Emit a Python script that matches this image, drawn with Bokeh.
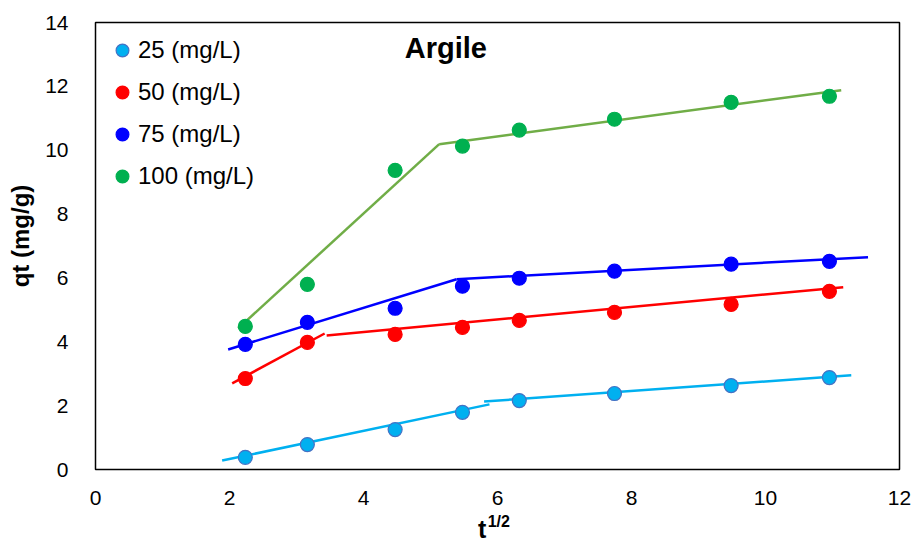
from bokeh.plotting import figure
from bokeh.models import Label, Legend, LegendItem, FixedTicker, Range1d, LinearAxis
from bokeh.embed import file_html
from bokeh.resources import INLINE

# data
sqrt_t = [2.236, 3.162, 4.472, 5.477, 6.325, 7.746, 9.487, 10.954]
q25 = [0.38, 0.78, 1.25, 1.79, 2.16, 2.38, 2.63, 2.88]
q50 = [2.85, 3.98, 4.23, 4.45, 4.67, 4.92, 5.17, 5.58]
q75 = [3.92, 4.61, 5.05, 5.74, 5.99, 6.21, 6.43, 6.52]
q100 = [4.48, 5.80, 9.37, 10.13, 10.63, 10.97, 11.50, 11.69]

# fitted linear segments (x0, x1) and (y0, y1)
fit25 = [([1.89, 5.88], [0.28, 2.04]), ([5.80, 11.28], [2.13, 2.95])]
fit50 = [([2.04, 3.42], [2.70, 4.26]), ([3.45, 11.16], [4.20, 5.71])]
fit75 = [([1.98, 5.39], [3.76, 5.96]), ([5.39, 11.53], [5.96, 6.65])]
fit100 = [([2.13, 5.13], [4.42, 10.19]), ([5.13, 11.13], [10.19, 11.88])]

labels = ["25 (mg/L)", "50 (mg/L)", "75 (mg/L)", "100 (mg/L)"]
x_ticks = [0, 2, 4, 6, 8, 10, 12]
y_ticks = [0, 2, 4, 6, 8, 10, 12, 14]
title_text = "Argile"
y_title = "qt (mg/g)"
x_title_base = "t"
x_title_sup = "1/2"

FONT = "Liberation Sans"

p = figure(width=914, height=548, output_backend="svg", toolbar_location=None,
           x_range=Range1d(0, 12), y_range=Range1d(0, 14),
           min_border_left=95, min_border_right=15, min_border_top=22, min_border_bottom=79)
p.background_fill_color = "white"
p.border_fill_color = "white"
p.outline_line_color = "black"
p.outline_line_width = 1.5
p.grid.visible = False

for ax in (p.xaxis[0], p.yaxis[0]):
    ax.axis_line_color = None
    ax.major_tick_line_color = None
    ax.minor_tick_line_color = None
    ax.major_label_text_font = FONT
    ax.major_label_text_font_size = "21px"
    ax.major_label_text_color = "black"

p.xaxis.ticker = FixedTicker(ticks=x_ticks)
p.yaxis.ticker = FixedTicker(ticks=y_ticks)
p.xaxis.major_label_standoff = 15
p.yaxis.major_label_standoff = 21

# leading no-break spaces nudge the centred rotated title slightly upward
p.yaxis.axis_label = "\u00a0\u00a0\u00a0" + y_title
p.yaxis.axis_label_text_font = FONT
p.yaxis.axis_label_text_font_size = "24px"
p.yaxis.axis_label_text_font_style = "bold"
p.yaxis.axis_label_standoff = 8
p.yaxis.axis_label_text_color = "black"


def text_axis(pos, txt, size, standoff):
    ax = LinearAxis(ticker=FixedTicker(ticks=[pos]),
                    major_label_overrides={pos: txt},
                    axis_line_color=None, major_tick_line_color=None,
                    minor_tick_line_color=None,
                    major_label_text_font=FONT, major_label_text_font_size=size,
                    major_label_text_font_style="bold", major_label_text_color="black",
                    major_label_standoff=standoff)
    p.add_layout(ax, "below")


text_axis(6.02, x_title_sup, "16px", -1)
text_axis(5.77, x_title_base, "25px", -24)

series = [
    (q25, fit25, "#00B0F0", "#4472C4", "#00B0F0"),
    (q50, fit50, "#FF0000", "#FF0000", "#FF0000"),
    (q75, fit75, "#0000FF", "#0000FF", "#0000FF"),
    (q100, fit100, "#00B050", "#00B050", "#70AD47"),
]

items = []
for (ys, fits, fc, lc, linec), lab in zip(series, labels):
    for xs_seg, ys_seg in fits:
        p.line(xs_seg, ys_seg, line_color=linec, line_width=2.5)
    r = p.scatter(sqrt_t, ys, size=14, fill_color=fc, line_color=lc, line_width=1.2)
    items.append(LegendItem(label=lab, renderers=[r]))

legend = Legend(items=items, location="top_left", border_line_color=None,
                background_fill_alpha=0, label_text_font=FONT,
                label_text_font_size="24px", label_text_color="black",
                label_standoff=-12, glyph_width=32, glyph_height=34, spacing=8,
                margin=11, padding=5, label_height=30)
p.add_layout(legend, "center")

p.add_layout(Label(x=5.23, y=13.21, text=title_text, text_font=FONT, text_font_size="29px",
                   text_font_style="bold", text_align="center", text_baseline="alphabetic",
                   text_color="black"))

open("out.html", "w").write(file_html(p, INLINE))
